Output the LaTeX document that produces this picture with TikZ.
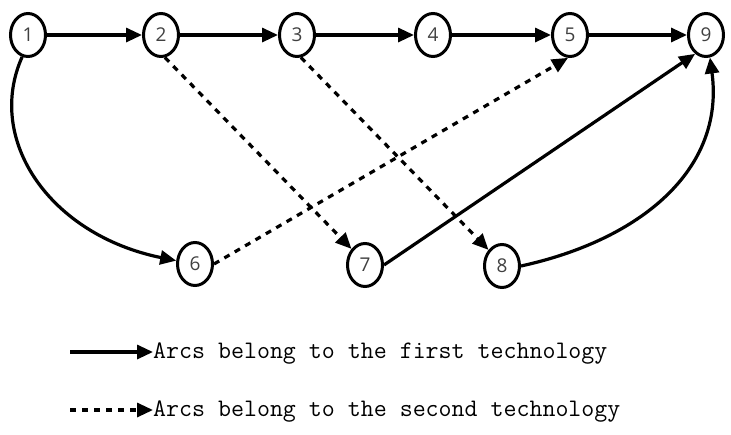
\documentclass[tikz,border=0pt]{standalone}
\usepackage{fontspec}
\setmainfont{Liberation Serif}
\newfontfamily\numfont{Open Sans}
\usetikzlibrary{arrows.meta,shapes.geometric}
\begin{document}
\begin{tikzpicture}[x=1pt,y=-1pt,
  vertex/.style={ellipse,draw,line width=3pt,minimum width=35pt,minimum height=43pt,inner sep=0pt,
                 font=\numfont\fontsize{19}{21}\selectfont,text=black!75},
  arc/.style={line width=3.2pt,-{Triangle[length=16pt,width=14pt]}},
  tech2/.style={arc,dash pattern=on 6pt off 6pt},
  legtext/.style={anchor=west,inner sep=0pt,font=\ttfamily\fontsize{25.2}{27}\selectfont}]
\useasboundingbox (0,0) rectangle (731,434);
% vertices
\node[vertex] (n1) at (28,35) {1};
\node[vertex] (n2) at (161,35) {2};
\node[vertex] (n3) at (297,35) {3};
\node[vertex] (n4) at (433,35) {4};
\node[vertex] (n5) at (570,35) {5};
\node[vertex] (n9) at (706,35) {9};
\node[vertex] (n6) at (195,264) {6};
\node[vertex] (n7) at (365,265) {7};
\node[vertex] (n8) at (502,266) {8};
% first technology
\draw[arc] (n1) -- (n2);
\draw[arc] (n2) -- (n3);
\draw[arc] (n3) -- (n4);
\draw[arc] (n4) -- (n5);
\draw[arc] (n5) -- (n9);
\draw[arc] (n1.-105) .. controls (-15,140) and (50,235) .. (n6.170);
\draw[arc] (n7.east) -- (n9.-120);
\draw[arc] (n8.east) .. controls (640,240) and (725,170) .. (n9.-80);
% second technology
\draw[tech2] (n2.-80) -- (n7.130);
\draw[tech2] (n3.-80) -- (n8.130);
\draw[tech2] (n6.east) -- (n5.-95);
% legend
\coordinate (la) at (70,352);
\coordinate (lb) at (153,352);
\coordinate (lc) at (70,410);
\coordinate (ld) at (153,410);
\draw[arc] (la) -- (lb);
\draw[tech2] (lc) -- (ld);
\node[legtext] (t1) at (153,354) {Arcs belong to the first technology};
\node[legtext] (t2) at (153,412) {Arcs belong to the second technology};
\end{tikzpicture}
\end{document}
